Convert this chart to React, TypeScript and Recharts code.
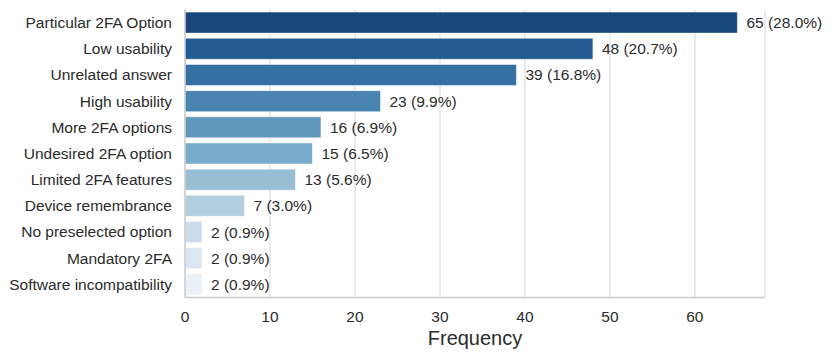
import { BarChart, Bar, XAxis, YAxis, CartesianGrid, Cell, LabelList } from "recharts";

const categories = [
  "Particular 2FA Option",
  "Low usability",
  "Unrelated answer",
  "High usability",
  "More 2FA options",
  "Undesired 2FA option",
  "Limited 2FA features",
  "Device remembrance",
  "No preselected option",
  "Mandatory 2FA",
  "Software incompatibility",
];

const counts = [65, 48, 39, 23, 16, 15, 13, 7, 2, 2, 2];

const xTicks = [0, 10, 20, 30, 40, 50, 60];

// seaborn Blues_r, desaturated
const palette = [
  "#19477b",
  "#235c92",
  "#3470a3",
  "#4884af",
  "#6098bc",
  "#78abc9",
  "#97bed3",
  "#b3cedf",
  "#cbdbea",
  "#dae6f0",
  "#e9f0f7",
];

const total = counts.reduce((a, b) => a + b, 0);

const data = categories.map((name, i) => ({ name, count: counts[i] }));

const font = "'Liberation Sans', Arial, sans-serif";
const textColor = "#2b2b2b";

export default function App() {
  return (
    <div style={{ position: "absolute", left: 0, top: 0, background: "#fff" }}>
      <BarChart
        width={831}
        height={357}
        data={data}
        layout="vertical"
        margin={{ top: 9.5, right: 66, bottom: 0, left: 0 }}
        barCategoryGap="10%"
        style={{ fontFamily: font }}
      >
        <CartesianGrid horizontal={false} stroke="#dddddd" strokeWidth={1.2} />
        <XAxis
          type="number"
          domain={[0, 68.25]}
          ticks={xTicks}
          height={59.6}
          axisLine={{ stroke: "#cccccc", strokeWidth: 1.5 }}
          tickLine={false}
          tickMargin={8}
          tick={{ fill: textColor, fontSize: 15.5 }}
          label={{
            value: "Frequency",
            position: "insideBottom",
            offset: 12,
            fill: textColor,
            fontSize: 20,
          }}
        />
        <YAxis
          type="category"
          dataKey="name"
          width={185}
          axisLine={{ stroke: "#cccccc", strokeWidth: 1.5 }}
          tickLine={false}
          tickMargin={7}
          interval={0}
          tick={{ fill: textColor, fontSize: 15.5 }}
        />
        <Bar dataKey="count" isAnimationActive={false}>
          {data.map((d, i) => (
            <Cell key={d.name} fill={palette[i]} stroke="#ffffff" strokeOpacity={0.6} strokeWidth={0.8} />
          ))}
          <LabelList
            dataKey="count"
            position="right"
            offset={9}
            fill={textColor}
            fontSize={15.5}
            formatter={(v: any) => `${v} (${((v / total) * 100).toFixed(1)}%)`}
          />
        </Bar>
      </BarChart>
    </div>
  );
}
